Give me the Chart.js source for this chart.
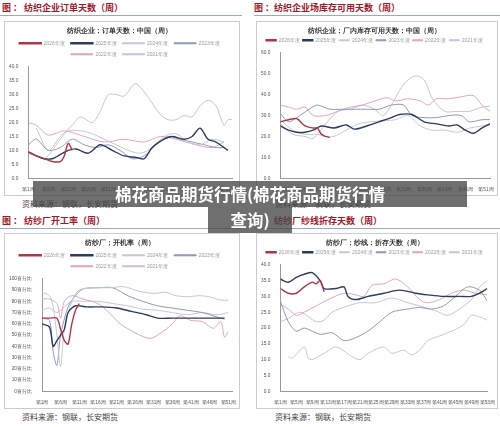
<!DOCTYPE html>
<html><head><meta charset="utf-8">
<script src="https://cdn.jsdelivr.net/npm/chart.js@4/dist/chart.umd.min.js"></script>
<style>
body{margin:0;width:500px;height:427px;background:#fff;position:relative;overflow:hidden;font-family:"Noto Sans CJK SC",sans-serif}
.hd{position:absolute;color:#a0182a;font-weight:bold;font-size:9px;white-space:nowrap}
.hl{position:absolute;height:1px;background:#9ab}
.fr{position:absolute;border:1px solid #ccc}
.src{position:absolute;font-size:8px;color:#444;white-space:nowrap}
.cv{position:absolute}
.ov{position:absolute;background:rgba(70,70,70,0.78);color:#fff;font-weight:bold;font-size:16.5px;text-align:center;line-height:26px;white-space:nowrap}
</style></head><body>
<div class="hd" style="left:2px;top:1px">图 ： 纺织企业订单天数（周）</div>
<div class="hl" style="left:0;top:15px;width:242px"></div>
<div class="fr" style="left:4px;top:21px;width:234px;height:173px"></div>
<div class="cv" style="left:5px;top:22px;width:233px;height:172px"><canvas id="c1"></canvas></div>
<div class="src" style="left:22px;top:198px">资料来源：钢联，长安期货</div>

<div class="hd" style="left:254px;top:1px">图 ：纺织企业场库存可用天数（周）</div>
<div class="hl" style="left:254px;top:15px;width:246px"></div>
<div class="fr" style="left:256px;top:21px;width:240px;height:173px"></div>
<div class="cv" style="left:257px;top:22px;width:239px;height:172px"><canvas id="c2"></canvas></div>
<div class="src" style="left:275px;top:198px">资料来源：钢联，长安期货</div>

<div class="hd" style="left:2px;top:214px">图 ： 纺纱厂开工率（周）</div>
<div class="hl" style="left:0;top:228px;width:242px"></div>
<div class="fr" style="left:4px;top:233px;width:234px;height:174px"></div>
<div class="cv" style="left:5px;top:234px;width:233px;height:173px"><canvas id="c3"></canvas></div>
<div class="src" style="left:22px;top:411px">资料来源：钢联，长安期货</div>

<div class="hd" style="left:254px;top:214px">图 ：纺纱厂纱线折存天数（周）</div>
<div class="hl" style="left:254px;top:228px;width:246px"></div>
<div class="fr" style="left:256px;top:233px;width:240px;height:174px"></div>
<div class="cv" style="left:257px;top:234px;width:239px;height:173px"><canvas id="c4"></canvas></div>
<div class="src" style="left:275px;top:411px">资料来源：钢联，长安期货</div>

<div class="ov" style="left:33px;top:181px;width:434px">棉花商品期货行情(棉花商品期货行情</div>
<div class="ov" style="left:208px;top:207px;width:84px">查询)</div>
<script>
const seriesNames=["2026年度","2025年度","2024年度","2023年度","2022年度","2021年度"];
const colors=["#b03545","#2c3c5c","#c0cad8","#8d9ab2","#e2a6b6","#cdbfdc"];
const widths=[1.4,1.4,1,1,1,1];

const c1Title="纺织企业：订单天数：中国（周）";
const c1_2026=[[1,9.5],[3,8],[5,7],[7,6],[9,6],[10,8],[11,12.5],[12,10]];
const c1_2025=[[1,9.5],[3,8],[5,7],[7,7],[9,8.5],[11,10],[13,10.5],[16,9],[19,12],[22,10],[25,8],[28,7.5],[30,7],[32,11],[35,14],[37,15],[40,14],[42,15],[44,18],[46,14],[48,13],[50,11],[51,10]];
const c1_2024=[[1,9],[3,8],[5,7],[7,10],[9,14],[11,17],[14,17],[17,16],[20,14],[23,12],[26,10],[29,9],[32,11],[35,15],[38,16],[41,13],[44,12],[47,14],[50,13]];
const c1_2023=[[1,12],[3,14],[6,10],[9,11],[12,14],[15,12],[18,11],[21,12],[24,10],[27,7],[30,8],[33,12],[36,15],[39,14],[42,13],[45,12],[48,11],[50,11]];
const c1_2022=[[1,20],[3,19],[6,15.5],[10,17],[15,15],[20,13],[25,14],[30,13],[34,15],[38,14],[43,12],[47,11],[50,13]];
const c1_2021=[[3,18],[6,10],[9,15],[12,19],[14,22],[17,20],[19,24],[21,30],[23,30],[25,29.5],[27,33],[28,34],[30,31],[32,27],[34,23],[36,21],[38,21],[40,22.5],[42,22],[44,26],[46,28],[48,26],[50,19],[51,21],[52,21]];
const c1Y=[0,40,5];

const c2Title="纺织企业：厂内库存可用天数：中国（周）";
const c2_2026=[[1,27],[3,28],[5,28.5],[7,25],[9,24],[10,24],[11,21],[12,20],[13,19.5]];
const c2_2025=[[1,25],[3,23],[5,22],[7,22],[9,23],[11,25],[14,24],[17,25.5],[19,23.5],[22,25],[25,27],[28,29],[30,30.5],[33,30.5],[36,27],[39,26],[42,25],[44,25.5],[46,23],[48,21.5],[50,24],[52,26]];
const c2_2024=[[1,28],[4,23],[7,21],[10,21],[12,20],[14,20],[17,23],[20,26],[23,27],[26,27.5],[29,28],[32,30],[35,25],[38,23],[41,23],[44,22],[47,24],[50,25],[52,26]];
const c2_2023=[[1,31],[3,27],[5,29],[8,33],[10,35],[13,33],[16,33],[19,33],[22,33],[25,33],[28,35],[31,35],[33,30],[36,29],[39,29],[42,30],[45,30],[47,27],[50,28],[52,28]];
const c2_2022=[[1,35],[3,34],[5,33],[7,34],[9,30],[12,30],[15,32],[18,34],[21,35],[24,37],[27,38.5],[29,37],[32,38],[35,37],[37,35],[39,38],[42,38],[45,39],[48,39.5],[50,35],[52,32]];
const c2_2021=[[1,26],[4,21],[7,20],[9,19],[12,26],[15,32],[18,33],[21,35],[24,33],[26,30],[28,35],[30,42],[32,47],[34,49],[36,47],[38,38],[41,32],[44,32],[47,32],[50,34],[52,34.5]];
const c2Y=[0,60,10];

const c3Title="纺纱厂：开机率（周）";
const c3_2026=[[1,65],[3,65],[5,65],[6,55],[7,45],[8,42],[9,60],[10,72],[11,78]];
const c3_2025=[[1,60],[3,57],[4,40],[5,45],[6,50],[7,55],[8,70],[10,76],[13,75],[17,75],[21,74],[25,71],[29,68],[32,65],[36,65],[40,65],[45,65],[50,65]];
const c3_2024=[[1,88],[3,85],[4,75],[5,50],[6,22],[7,55],[9,80],[11,90],[15,92],[19,92],[23,93],[27,89],[31,87],[34,88],[37,85],[40,84],[43,85],[46,84],[49,81],[51,81]];
const c3_2023=[[1,65],[3,63],[4,35],[5,23],[6,50],[8,75],[10,85],[12,91],[16,92],[20,92],[24,85],[28,80],[32,76],[36,74],[40,72],[44,70],[48,66],[50,64]];
const c3_2022=[[1,82],[3,82],[5,78],[6,65],[7,80],[9,85],[12,82],[16,78],[19,70],[22,60],[26,52],[30,47],[33,52],[36,60],[38,67],[41,63],[44,62],[47,56],[49,62],[50,48],[51,53]];
const c3_2021=[[1,72],[3,74],[5,70],[7,75],[9,80],[12,80],[16,80],[20,78],[24,76],[28,73],[32,72],[36,70],[40,68],[44,70],[48,68],[51,70]];
const c3Y=[0,100,10];

const c4Title="纺纱厂：纱线：折存天数（周）";
const c4_2026=[[1,32.5],[3,31],[5,31],[7,33],[9,34.5],[10,34],[11,35],[12,31.5]];
const c4_2025=[[1,35.5],[3,34.5],[5,36],[7,37],[9,37.5],[11,35],[12,32.5],[15,32.5],[17,33],[18,30],[20,29],[23,30],[27,31],[31,32],[35,31],[38,30.5],[42,30],[46,30],[49,30],[51,31],[53,32.5]];
const c4_2024=[[3,11],[4,10.5],[7,14],[8,10.5],[9,10],[12,12],[15,14],[19,11],[21,10],[23,12],[27,14],[29,12],[32,13],[34,11.5],[36,13],[38,16],[41,17.5],[44,19],[47,21],[49,24],[51,23.5],[53,22.5]];
const c4_2023=[[1,28.5],[3,22],[5,19],[7,20],[11,18],[14,18.5],[17,16],[20,17],[23,19],[26,22],[29,25],[33,26],[36,26.5],[39,26],[42,27],[45,30],[48,33],[51,32],[53,28.5]];
const c4_2022=[[1,27.5],[3,26],[5,24],[7,25],[10,27],[13,29],[17,31],[20,30.5],[22,30],[24,33.5],[27,34],[30,35.5],[33,33],[36,29],[38,28],[41,29],[44,31],[47,32],[50,31],[53,30.5]];
const c4_2021=[[1,22],[3,23],[6,25],[10,22],[12,22.5],[14,25],[18,27],[21,28],[25,28],[29,29.5],[33,28],[36,27],[40,25.5],[43,24],[46,26],[49,29],[51,33],[53,35]];
const c4Y=[0,40,5];

function mk(id,title,sets,yr,fmt,xmax,xstep,legendBox,pad){
  const ds=sets.map((s,i)=>({label:seriesNames[i],data:s.map(p=>({x:p[0],y:p[1]})),borderColor:colors[i],backgroundColor:colors[i],borderWidth:widths[i],pointRadius:0,tension:0.3,order:i===0?0:(i===1?1:2+i)}));
  new Chart(document.getElementById(id),{type:'line',data:{datasets:ds},options:{
    responsive:true,maintainAspectRatio:false,animation:false,
    layout:{padding:{left:2,right:6,top:0,bottom:0}},
    plugins:{title:{display:true,text:title,font:{size:6.5,weight:'bold'},color:'#333',padding:{top:5,bottom:0}},
      legend:{labels:{boxWidth:legendBox,boxHeight:1,font:{size:5},color:'#999',padding:pad}},tooltip:{enabled:false}},
    scales:{x:{type:'linear',min:1,max:xmax,afterBuildTicks:a=>{const t=[];for(let v=1;v<=xmax;v+=xstep)t.push({value:v});a.ticks=t;},
        ticks:{callback:v=>'第'+v+'周',font:{size:4.8},color:'#555',maxRotation:0,autoSkip:false,padding:1},grid:{display:false},border:{color:'#999'}},
      y:{min:yr[0],max:yr[1],ticks:{stepSize:yr[2],callback:fmt,font:{size:4.8},color:'#555',padding:2},grid:{display:false},border:{color:'#999'}}}
  }});
}
mk('c1',c1Title,[c1_2026,c1_2025,c1_2024,c1_2023,c1_2022,c1_2021],c1Y,v=>v.toFixed(1),52,5,22,6);
mk('c2',c2Title,[c2_2026,c2_2025,c2_2024,c2_2023,c2_2022,c2_2021],c2Y,v=>v+'.0',52,5,10,3);
mk('c3',c3Title,[c3_2026,c3_2025,c3_2024,c3_2023,c3_2022,c3_2021],c3Y,v=>v+'百分比',52,5,22,6);
mk('c4',c4Title,[c4_2026,c4_2025,c4_2024,c4_2023,c4_2022,c4_2021],c4Y,v=>v.toFixed(1),53,4,10,3);
</script></body></html>
